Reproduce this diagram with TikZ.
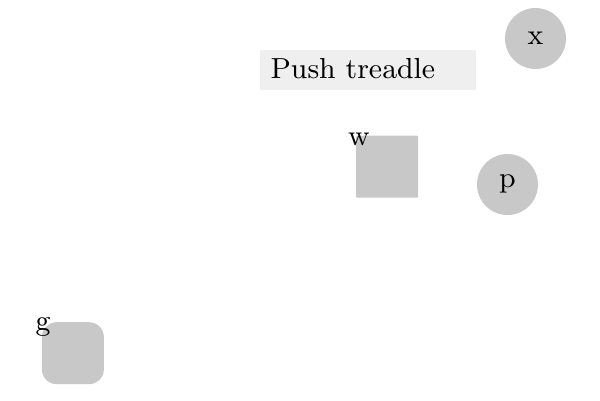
\documentclass[tikz,border=0pt]{standalone}
\font\diagfont=cmr9 at 29pt
\begin{document}
\begin{tikzpicture}[x=1pt,y=-1pt,
  every node/.style={font=\diagfont, inner sep=0pt},
  graycirc/.style={circle, fill=shapegray, minimum size=61pt},
  graysq/.style={rectangle, fill=shapegray, minimum width=62pt, minimum height=62pt, rounded corners=1pt},
  grayrsq/.style={rectangle, fill=shapegray, minimum width=62pt, minimum height=62pt, rounded corners=15pt},
  lightbox/.style={rectangle, fill=boxgray, minimum width=216pt, minimum height=39.5pt, text width=195pt, align=left, text height=17.6pt, text depth=0pt},
  lbl/.style={anchor=base west}]
\definecolor{shapegray}{HTML}{C8C8C8}
\definecolor{boxgray}{HTML}{EFEFEF}
\useasboundingbox (0,0) rectangle (600,400);
\node[graycirc] (x) at (535.5,38.5) {x};
\node[graycirc] (p) at (507.5,184.5) {p};
\node[lightbox, anchor=north west] (push) at (260,50) {Push treadle};
\node[graysq, anchor=north west] (w) at (356,135.5) {};
\node[lbl] (wl) at (348,145) {w};
\node[grayrsq, anchor=north west] (g) at (41.7,322) {};
\node[lbl] (gl) at (35.5,330) {g};
\end{tikzpicture}
\end{document}
